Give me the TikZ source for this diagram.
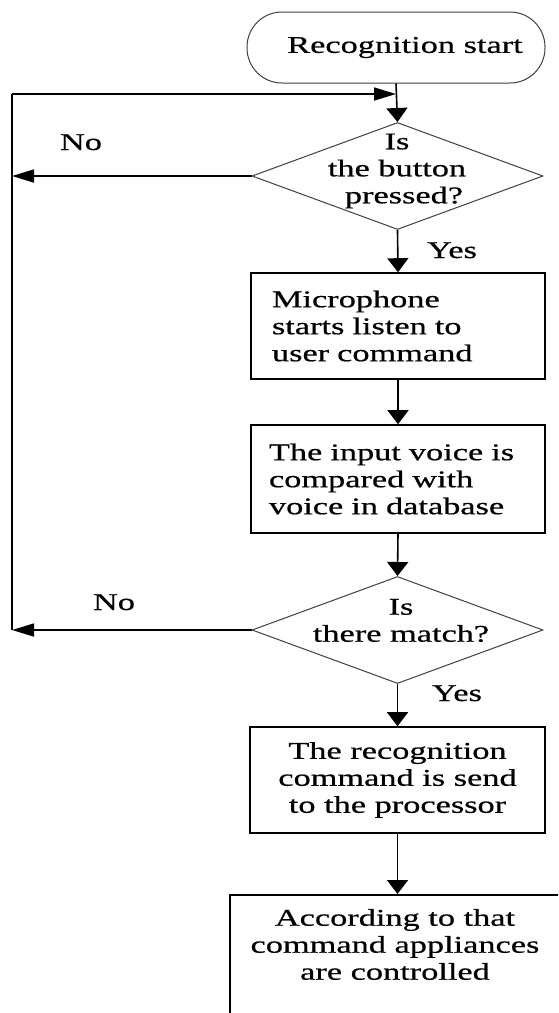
\documentclass[tikz,border=0pt]{standalone}
\usepackage{fontspec}
\setmainfont{Liberation Serif}[FakeStretch=1.43,FakeBold=0.6]
\usetikzlibrary{shapes.geometric,arrows.meta}
\newcommand\dfsz{\fontsize{24}{27}\selectfont}
\tikzset{
  every node/.style={font=\dfsz, text=black},
  terminal/.style={draw=black!75, line width=1pt, rounded corners=35pt, minimum width=298pt, minimum height=71pt, inner sep=0pt},
  procbox/.style={draw=black, line width=1.6pt, rectangle, minimum height=106pt, inner ysep=0pt},
  decision/.style={draw=black!75, line width=1pt, diamond, minimum width=291pt, minimum height=107pt, inner sep=0pt},
  conn/.style={draw=black, line width=1.6pt},
  varr/.style={conn, -{Triangle[length=14pt,width=21pt]}},
  harr/.style={conn, -{Triangle[length=22pt,width=13pt]}},
  lbl/.style={anchor=base, inner sep=0pt}
}
\begin{document}
\begin{tikzpicture}[x=1pt,y=-1pt]
\clip (0,0) rectangle (558,1013);
\fill[white] (0,0) rectangle (558,1013);
% shapes
\node[terminal] (start) at (396,47.5) {\hspace*{18pt}Recognition start};
\node[decision] (d1) at (397.5,176) {};
\node[procbox, minimum width=294pt, text width=252pt, inner xsep=21pt, align=left] (b1) at (398,326) {Microphone\\starts listen to\\user command};
\node[procbox, minimum width=294pt, text width=258pt, inner xsep=18pt, align=left, minimum height=108pt] (b2) at (398,479) {The input voice is\\compared with\\voice in database};
\node[decision] (d2) at (397.5,630) {};
\node[procbox, minimum width=295pt, align=center] (b3) at (397.5,780) {The recognition\\command is send\\to the processor};
\node[procbox, minimum width=340pt, minimum height=160pt, anchor=north west] (b4) at (229,894) {};
% texts on shapes
\node[align=center, inner sep=0pt] (t1) at (397,171) {Is\\the button\\\hspace*{14pt}pressed?};
\node[align=center, inner sep=0pt] (t2) at (401,620.5) {Is\\there match?};
\node[align=center, inner sep=0pt] (t4) at (395,944.5) {According to that\\command appliances\\are controlled};
% labels
\node[lbl] (no1) at (81,150) {No};
\node[lbl] (no2) at (114,610) {No};
\node[lbl] (yes1) at (452,258) {Yes};
\node[lbl] (yes2) at (457,701) {Yes};
% loop coordinates
\coordinate (l1) at (12,176);
\coordinate (l2) at (12,630);
\coordinate (lt) at (12,94);
\coordinate (jn) at (396,94);
% connectors
\draw[varr] (start.south) -- (d1.north);
\draw[harr] (d1.west) -- (l1);
\draw[harr] (d2.west) -- (l2);
\draw[conn, line width=1.8pt] (l2) -- (lt);
\draw[harr] (lt) -- (jn);
\draw[varr] (d1.south) -- (b1.north);
\draw[varr] (b1.south) -- (b2.north);
\draw[varr] (b2.south) -- (d2.north);
\draw[varr] (d2.south) -- (b3.north);
\draw[varr] (b3.south) -- (b3.south |- b4.north);
\end{tikzpicture}
\end{document}
